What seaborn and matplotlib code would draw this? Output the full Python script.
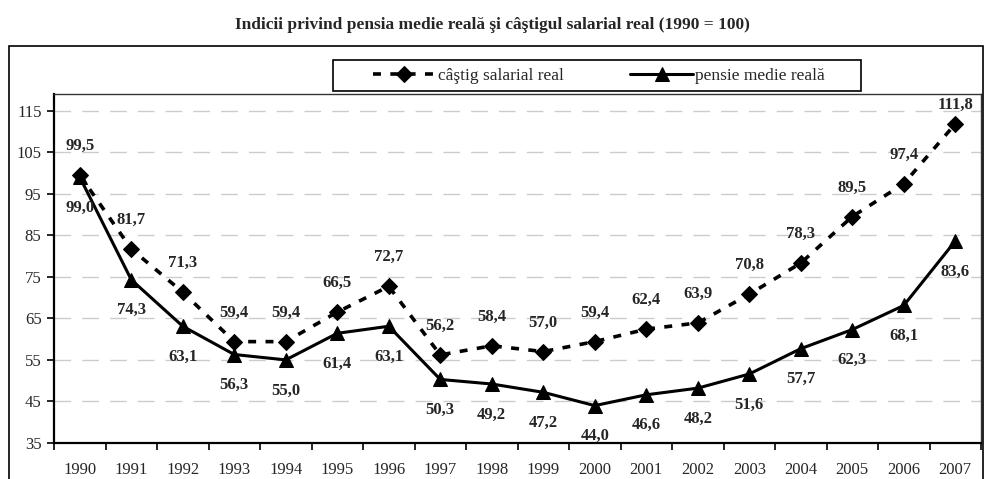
import matplotlib
matplotlib.use("Agg")
import matplotlib.pyplot as plt
import matplotlib.patches as patches
from matplotlib.ticker import FixedLocator
import seaborn as sns

# Date: indicii (1990 = 100)
years = list(range(1990, 2008))
castig = [99.5, 81.7, 71.3, 59.4, 59.4, 66.5, 72.7, 56.2, 58.4, 57.0,
          59.4, 62.4, 63.9, 70.8, 78.3, 89.5, 97.4, 111.8]
pensie = [99.0, 74.3, 63.1, 56.3, 55.0, 61.4, 63.1, 50.3, 49.2, 47.2,
          44.0, 46.6, 48.2, 51.6, 57.7, 62.3, 68.1, 83.6]
label_castig = "câştig salarial real"
label_pensie = "pensie medie reală"
title = "Indicii privind pensia medie reală şi câştigul salarial real (1990 = 100)"

sns.set_style("white")
plt.rcParams["font.family"] = ["Liberation Serif", "DejaVu Serif"]

W, H = 985, 479
fig = plt.figure(figsize=(W / 100, H / 100), dpi=100)
ax = fig.add_axes([54 / W, 1 - 443 / H, (981 - 54) / W, (443 - 94) / H])

sns.lineplot(x=years, y=castig, ax=ax, color="black", lw=2.6,
             linestyle=(0, (2.2, 2.6)), marker="D", markersize=8.5,
             markeredgecolor="black", label=label_castig)
sns.lineplot(x=years, y=pensie, ax=ax, color="black", lw=2.2,
             linestyle="-", marker="^", markersize=10,
             markeredgecolor="black", label=label_pensie)

# etichete valori
for i, (x, v) in enumerate(zip(years, castig)):
    dy = 14 if i == len(years) - 1 else 21
    ax.annotate(f"{v:.1f}".replace(".", ","), (x, v), xytext=(0, dy),
                textcoords="offset points", ha="center", va="center",
                fontsize=12, fontweight="bold", annotation_clip=False)
for x, v in zip(years, pensie):
    ax.annotate(f"{v:.1f}".replace(".", ","), (x, v), xytext=(0, -22),
                textcoords="offset points", ha="center", va="center",
                fontsize=12, fontweight="bold")

ax.set_xlim(1989.5, 2007.5)
ax.set_ylim(35, 119)
ax.set_yticks(range(35, 116, 10))
ax.set_xticks(years)
ax.xaxis.set_minor_locator(FixedLocator([y - 0.5 for y in years] + [2007.5]))
ax.tick_params(axis="x", which="major", length=0, labelsize=12, pad=14)
ax.tick_params(axis="x", which="minor", length=5, width=1.2, color="black",
               direction="out", bottom=True)
ax.tick_params(axis="y", which="major", length=5, width=1.2, color="black",
               direction="out", left=True, labelsize=12, pad=4)

ax.grid(axis="y", color="#cccccc", linestyle=(0, (12, 8)), lw=1)
ax.set_axisbelow(True)
for s in ["left", "bottom"]:
    ax.spines[s].set_color("black")
    ax.spines[s].set_linewidth(1.6)
for s in ["top", "right"]:
    ax.spines[s].set_color("#333333")
    ax.spines[s].set_linewidth(1.0)
ax.set_xlabel("")
ax.set_ylabel("")

# legenda
handles, labels = ax.get_legend_handles_labels()
leg = ax.legend(handles, labels, loc="center", ncol=2, frameon=False,
                bbox_to_anchor=(599 / W, 1 - 76 / H), bbox_transform=fig.transFigure,
                fontsize=12.5, handlelength=3.6, handletextpad=0.12,
                columnspacing=3.85)
fig.patches.append(patches.Rectangle((333 / W, 1 - 91 / H), (861 - 333) / W, 31 / H,
                                     transform=fig.transFigure, fill=False,
                                     edgecolor="black", lw=1.2))
# chenar exterior
fig.patches.append(patches.Rectangle((9 / W, -0.01), (983 - 9) / W, 1 - 46 / H + 0.01,
                                     transform=fig.transFigure, fill=False,
                                     edgecolor="black", lw=1.2))

fig.text(0.5, 1 - 25 / H, title, ha="center", va="center",
         fontsize=12.5, fontweight="bold")

fig.savefig("out.png", dpi=100)
